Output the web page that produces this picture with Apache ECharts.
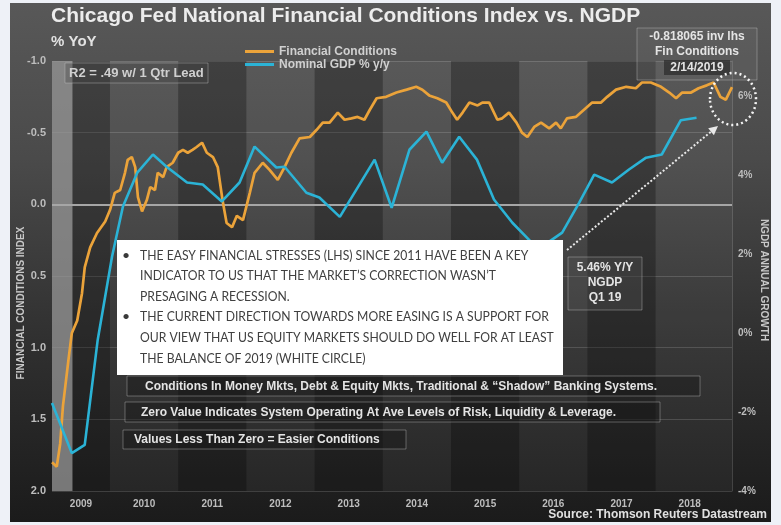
<!DOCTYPE html>
<html>
<head>
<meta charset="utf-8">
<script src="https://cdn.jsdelivr.net/npm/echarts@6/dist/echarts.min.js"></script>
<style>
  html, body { margin: 0; padding: 0; background: #eef1f7; }
  #chart { width: 781px; height: 525px; }
</style>
</head>
<body>
<div id="chart"></div>
<script>
// ---- data ---------------------------------------------------------------
// Chicago Fed NFCI (inverted left axis), decimal-year dates
const fcDates = [
  2009.15, 2009.22, 2009.27, 2009.31, 2009.39, 2009.44, 2009.52, 2009.59, 2009.63, 2009.71,
  2009.81, 2009.93, 2010.00, 2010.03, 2010.07, 2010.15, 2010.22, 2010.26, 2010.32, 2010.37,
  2010.41, 2010.47, 2010.54, 2010.59, 2010.66, 2010.70, 2010.78, 2010.83, 2010.92, 2011.00,
  2011.07, 2011.14, 2011.21, 2011.27, 2011.35, 2011.42, 2011.51, 2011.58, 2011.65, 2011.71,
  2011.79, 2011.86, 2011.95, 2012.05, 2012.12, 2012.24, 2012.34, 2012.46, 2012.56, 2012.66,
  2012.78, 2012.93, 2013.03, 2013.12, 2013.22, 2013.34, 2013.44, 2013.54, 2013.63, 2013.73,
  2013.81, 2013.91, 2014.05, 2014.20, 2014.35, 2014.49, 2014.58, 2014.68, 2014.80, 2014.93,
  2015.02, 2015.09, 2015.17, 2015.27, 2015.39, 2015.46, 2015.56, 2015.68, 2015.75, 2015.85,
  2015.96, 2016.04, 2016.12, 2016.22, 2016.32, 2016.44, 2016.54, 2016.61, 2016.70, 2016.83,
  2016.95, 2017.07, 2017.20, 2017.29, 2017.42, 2017.57, 2017.71, 2017.80, 2017.93, 2018.08,
  2018.20, 2018.30, 2018.39, 2018.52, 2018.63, 2018.75, 2018.85, 2018.95, 2019.03, 2019.12
];
const fcValues = [
  1.80, 1.83, 1.67, 1.41, 1.09, 0.90, 0.81, 0.62, 0.44, 0.30,
  0.20, 0.12, 0.04, -0.01, -0.08, -0.10, -0.22, -0.31, -0.33, -0.26,
  -0.05, 0.05, -0.03, -0.12, -0.10, -0.22, -0.19, -0.26, -0.29, -0.36,
  -0.38, -0.36, -0.38, -0.40, -0.43, -0.36, -0.33, -0.26, -0.03, 0.13,
  0.16, 0.08, 0.11, -0.08, -0.22, -0.29, -0.24, -0.17, -0.26, -0.36,
  -0.46, -0.47, -0.52, -0.57, -0.57, -0.64, -0.59, -0.60, -0.61, -0.59,
  -0.66, -0.74, -0.75, -0.78, -0.80, -0.82, -0.80, -0.76, -0.74, -0.71,
  -0.64, -0.59, -0.64, -0.71, -0.69, -0.71, -0.71, -0.59, -0.60, -0.64,
  -0.57, -0.50, -0.47, -0.54, -0.57, -0.53, -0.57, -0.53, -0.60, -0.61,
  -0.66, -0.71, -0.71, -0.75, -0.80, -0.82, -0.81, -0.85, -0.85, -0.82,
  -0.78, -0.74, -0.78, -0.78, -0.81, -0.83, -0.85, -0.75, -0.73, -0.818065
];
const fcLastDateLabel = '2/14/2019';

// Nominal GDP, % y/y (right axis), plotted with a one-quarter lead
const gdpDates = [
  2009.15, 2009.44, 2009.63, 2009.82, 2010.03, 2010.19, 2010.40, 2010.63, 2010.83, 2011.13,
  2011.36, 2011.64, 2011.90, 2012.12, 2012.44, 2012.56, 2012.88, 2013.07, 2013.37, 2013.88,
  2014.13, 2014.39, 2014.64, 2014.87, 2015.12, 2015.38, 2015.63, 2015.90, 2016.17, 2016.44,
  2016.63, 2016.88, 2017.10, 2017.36, 2017.61, 2017.86, 2018.09, 2018.37, 2018.60
];
const gdpValues = [
  -1.77, -3.04, -2.83, -0.17, 1.94, 3.21, 4.07, 4.53, 4.22, 3.82,
  3.77, 3.34, 3.82, 4.73, 4.20, 4.22, 3.56, 3.44, 2.95, 4.40,
  3.18, 4.65, 5.11, 4.32, 4.98, 4.40, 3.39, 2.80, 2.32, 2.32,
  2.55, 3.31, 4.02, 3.82, 4.15, 4.45, 4.53, 5.40, 5.46
];
const gdpLastQuarterLabel = 'Q1 19';

const years = [2009, 2010, 2011, 2012, 2013, 2014, 2015, 2016, 2017, 2018];
const recession = [2007.92, 2009.45];
const leftTicks = { min: -1, max: 2, step: 0.5 };
const rightTicks = { min: -4, max: 6.9, step: 2 };

// ---- styling --------------------------------------------------------------
const FONT = '"Liberation Sans", Arial, sans-serif';
const ORANGE = '#eba33a';
const BLUE = '#2bb3d6';
const X_MIN = 2009.15, X_MAX = 2019.12;

// year label sits in the middle of the visible part of each year
const yearLabelPos = years.map(y => {
  const a = Math.max(y, X_MIN), b = Math.min(y + 1, X_MAX);
  return Math.round((a + b) / 2 / 0.025) * 0.025;
});

const bands = years.filter(y => y % 2 === 1).map(y => [
  { xAxis: Math.max(y, X_MIN), itemStyle: { color: 'rgba(0,0,0,0.28)' } },
  { xAxis: Math.min(y + 1, X_MAX) }
]);
const recessionArea = [
  { xAxis: Math.max(recession[0], X_MIN), itemStyle: { color: 'rgba(178,178,178,0.62)' } },
  { xAxis: recession[1] }
];

const noteBullets = [
  ['THE EASY FINANCIAL STRESSES (LHS) SINCE 2011 HAVE BEEN A KEY',
   'INDICATOR TO US THAT THE MARKET\u2019S CORRECTION WASN\u2019T',
   'PRESAGING A RECESSION.'],
  ['THE CURRENT DIRECTION TOWARDS MORE EASING IS A SUPPORT FOR',
   'OUR VIEW THAT US EQUITY MARKETS SHOULD DO WELL FOR AT LEAST',
   'THE BALANCE OF 2019 (WHITE CIRCLE)']
];
const conditionNotes = [
  'Conditions In Money Mkts, Debt & Equity Mkts, Traditional & \u201cShadow\u201d Banking Systems.',
  'Zero Value Indicates System Operating At Ave Levels of Risk, Liquidity & Leverage.',
  'Values Less Than Zero = Easier Conditions'
];

const boxStroke = 'rgba(200,200,200,0.38)';
const lightText = '#e4e4e4';

function txt(x, y, text, opt) {
  opt = opt || {};
  return {
    type: 'text', x: x, y: y, z: opt.z || 20, rotation: opt.rotation || 0,
    scaleX: opt.scaleX || 1,
    style: {
      text: text, fill: opt.color || lightText,
      font: (opt.weight || 'bold') + ' ' + (opt.size || 12) + 'px ' + (opt.family || FONT),
      align: opt.align || 'left', verticalAlign: 'middle'
    }
  };
}
function box(x, y, w, h, fill, z) {
  return { type: 'rect', z: z || 15, shape: { x: x, y: y, width: w, height: h },
    style: { fill: fill, stroke: boxStroke, lineWidth: 1 } };
}

const graphics = [];
// panel background
graphics.push({ type: 'rect', z: -10, silent: true, shape: { x: 10, y: 3, width: 761, height: 519 },
  style: { fill: new echarts.graphic.LinearGradient(0, 0, 0, 1, [
    { offset: 0, color: '#585858' }, { offset: 0.3, color: '#4a4a4a' },
    { offset: 0.65, color: '#303030' }, { offset: 1, color: '#1b1b1b' }]) } });

// R2 box
graphics.push(box(65, 63, 143, 20, 'rgba(70,70,70,0.35)'));
graphics.push(txt(69, 73.5, 'R2 = .49 w/ 1 Qtr Lead', { size: 13, color: '#d0d0d0' }));

// latest reading box
graphics.push(box(637, 28, 120, 52, 'rgba(120,120,120,0.22)'));
graphics.push({ type: 'rect', z: 16, shape: { x: 664, y: 60, width: 66, height: 15 }, style: { fill: 'rgba(45,45,45,0.75)' } });
graphics.push(txt(697, 37, fcValues[fcValues.length - 1].toFixed(6) + ' inv lhs', { size: 12, align: 'center' }));
graphics.push(txt(697, 52, 'Fin Conditions', { size: 12, align: 'center' }));
graphics.push(txt(697, 67.5, fcLastDateLabel, { size: 12, align: 'center' }));

// dotted circle round the latest reading
graphics.push({ type: 'ellipse', z: 18, shape: { cx: 733, cy: 99, rx: 23, ry: 26 },
  style: { fill: 'none', stroke: '#f4f4f4', lineWidth: 2.5, lineDash: [2, 3] } });

// NGDP call-out and arrow
graphics.push(box(568, 257, 74, 53, 'rgba(90,90,90,0.3)'));
graphics.push(txt(605, 268, gdpValues[gdpValues.length - 1].toFixed(2) + '% Y/Y', { size: 12, align: 'center' }));
graphics.push(txt(605, 283, 'NGDP', { size: 12, align: 'center' }));
graphics.push(txt(605, 298, gdpLastQuarterLabel, { size: 12, align: 'center' }));
graphics.push({ type: 'polyline', z: 18, shape: { points: [[567, 250], [711, 131.7]] },
  style: { stroke: '#e8e8e8', lineWidth: 2, lineDash: [2, 2], fill: 'none' } });
graphics.push({ type: 'polygon', z: 18, shape: { points: [[718, 126], [713.9, 135.2], [708.2, 128.2]] },
  style: { fill: '#e8e8e8' } });

// white commentary box
graphics.push({ type: 'rect', z: 15, shape: { x: 117, y: 240, width: 446, height: 135 }, style: { fill: '#ffffff' } });
let lineY = 255;
noteBullets.forEach(lines => {
  graphics.push(txt(122, lineY, '\u2022', { size: 14, weight: 'normal', family: 'Lato, sans-serif', color: '#3a3a3a' }));
  lines.forEach(l => {
    graphics.push(txt(140, lineY, l, { size: 14, weight: 'normal', family: 'Lato, sans-serif', color: '#404040', scaleX: 0.87 }));
    lineY += 20.6;
  });
});

// definition boxes
const noteBoxes = [[127, 376, 573, 20, 145], [125, 402, 535, 20, 141], [123, 430, 283, 19, 134]];
conditionNotes.forEach((t, i) => {
  const b = noteBoxes[i];
  graphics.push(box(b[0], b[1], b[2], b[3], 'rgba(25,25,25,0.45)'));
  graphics.push(txt(b[4], b[1] + b[3] / 2 + 0.5, t, { size: 12 }));
});

// axis names and source
graphics.push(txt(21, 303, 'FINANCIAL CONDITIONS INDEX', { size: 10, align: 'center', rotation: Math.PI / 2, color: '#c8c8c8' }));
graphics.push(txt(764, 280, 'NGDP ANNUAL GROWTH', { size: 10, align: 'center', rotation: -Math.PI / 2, color: '#c8c8c8' }));
graphics.push(txt(767, 515, 'Source: Thomson Reuters Datastream', { size: 12, align: 'right', color: '#e0e0e0' }));

const axisLabelStyle = { color: '#bdbdbd', fontSize: 11, fontWeight: 'bold', fontFamily: FONT };

const option = {
  animation: false,
  title: {
    text: 'Chicago Fed National Financial Conditions Index vs. NGDP',
    subtext: '% YoY',
    left: 51, top: 6, padding: 0, itemGap: 7,
    textStyle: { color: '#ececec', fontSize: 21, fontWeight: 'bold', fontFamily: FONT },
    subtextStyle: { color: '#e2e2e2', fontSize: 15, fontWeight: 'bold', fontFamily: FONT }
  },
  legend: {
    orient: 'vertical', left: 245, top: 45, padding: 0, itemGap: 0,
    itemWidth: 29, itemHeight: 3, icon: 'rect',
    textStyle: { color: '#d0d0d0', fontSize: 12, fontWeight: 'bold', fontFamily: FONT, lineHeight: 13 },
    data: ['Financial Conditions', 'Nominal GDP % y/y']
  },
  grid: { left: 52, right: 49, top: 61, bottom: 34, containLabel: false, outerBoundsMode: 'none',
    show: true, backgroundColor: 'rgba(255,255,255,0.04)', borderWidth: 0 },
  xAxis: {
    type: 'value', min: X_MIN, max: X_MAX, interval: 0.025,
    axisLine: { show: false }, axisTick: { show: false }, splitLine: { show: false },
    axisLabel: Object.assign({}, axisLabelStyle, { fontSize: 10, margin: 8,
      formatter: v => {
        const i = yearLabelPos.findIndex(p => Math.abs(p - v) < 0.005);
        return i >= 0 ? String(years[i]) : '';
      } })
  },
  yAxis: [{
    type: 'value', inverse: true, min: leftTicks.min, max: leftTicks.max, interval: leftTicks.step,
    position: 'left', axisLine: { show: false }, axisTick: { show: false },
    axisLabel: Object.assign({}, axisLabelStyle, { margin: 6, formatter: v => v.toFixed(1) }),
    splitLine: { show: true, lineStyle: { color: 'rgba(255,255,255,0.15)', width: 1 } }
  }, {
    type: 'value', min: rightTicks.min, max: rightTicks.max, interval: rightTicks.step,
    position: 'right', axisTick: { show: false }, splitLine: { show: false },
    axisLine: { show: true, lineStyle: { color: 'rgba(255,255,255,0.16)', width: 1 } },
    axisLabel: Object.assign({}, axisLabelStyle, { fontSize: 10, margin: 6, showMaxLabel: false,
      formatter: v => v + '%' })
  }],
  series: [{
    name: 'Financial Conditions', type: 'line', yAxisIndex: 0, z: 3,
    data: fcDates.map((d, i) => [d, fcValues[i]]),
    showSymbol: false, symbol: 'none',
    lineStyle: { color: ORANGE, width: 2.7 }, itemStyle: { color: ORANGE },
    markArea: { silent: true, data: bands.concat([recessionArea]) },
    markLine: { silent: true, symbol: 'none', z: 1, label: { show: false },
      lineStyle: { color: '#a6a6a6', width: 2, type: 'solid' }, data: [{ yAxis: 0 }] }
  }, {
    name: 'Nominal GDP % y/y', type: 'line', yAxisIndex: 1, z: 3,
    data: gdpDates.map((d, i) => [d, gdpValues[i]]),
    showSymbol: false, symbol: 'none',
    lineStyle: { color: BLUE, width: 2.6 }, itemStyle: { color: BLUE }
  }],
  graphic: { elements: graphics }
};

const chart = echarts.init(document.getElementById('chart'));
chart.setOption(option);
</script>
</body>
</html>
